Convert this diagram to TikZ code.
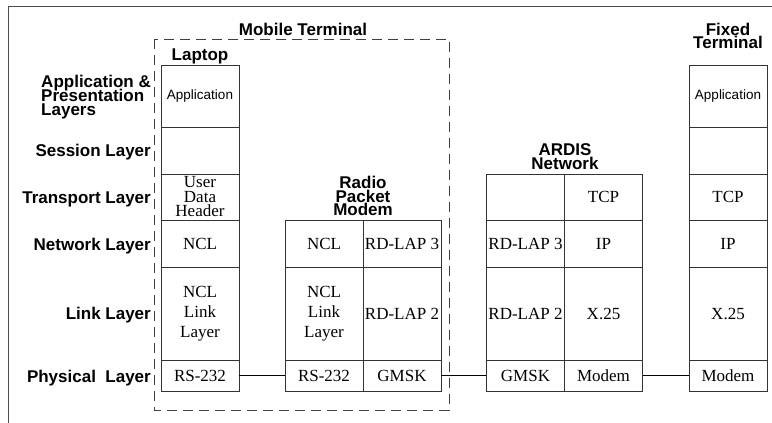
\documentclass[tikz,border=0pt]{standalone}
\usepackage{fontspec}
\setmainfont{Liberation Serif}
\setsansfont{Liberation Sans}
\usetikzlibrary{positioning}
\newcommand\tightskip{\lineskiplimit=-20pt\relax}

\begin{document}
\begin{tikzpicture}[x=1pt,y=-1pt,
  cell/.style={draw=black!80,line width=0.8pt,minimum width=78pt,inner sep=0pt,align=center,font={\fontsize{17}{14.5}\selectfont\tightskip}},
  cellsf/.style={cell,font=\sffamily\fontsize{13.5}{14}\selectfont},
  hdr/.style={font={\sffamily\bfseries\fontsize{17}{13.8}\selectfont\tightskip},align=center,inner sep=0pt},
  lyr/.style={font={\sffamily\bfseries\fontsize{17}{14}\selectfont\tightskip},align=left,anchor=east,inner sep=0pt},
  wire/.style={draw=black,line width=0.8pt}]
\useasboundingbox (0,0) rectangle (772,423);
% frame and mobile terminal boundary
\draw[black!70,line width=0.8pt] (8,423)--(8,6)--(772,6);
\draw[black!75,line width=0.8pt,dash pattern=on 10pt off 6pt] (154,39) rectangle (449,410);
% headings
\node[hdr] (mobile) at (303,29) {Mobile Terminal};
\node[hdr] (laptop) at (200,56) {Laptop};
\node[hdr] (rpm) at (363,196) {Radio\\Packet\\Modem};
\node[hdr] (ardis) at (565,157) {ARDIS\\Network};
\node[hdr] (fixed) at (728,36) {Fixed\\Terminal};
% layer names
\node[lyr] (lApp) at (151,97) {Application \&\\Presentation\\Layers};
\node[lyr] (lSes) at (151,152) {Session Layer};
\node[lyr] (lTra) at (151,199) {Transport Layer};
\node[lyr] (lNet) at (151,246) {Network Layer};
\node[lyr] (lLnk) at (151,315) {Link Layer};
\node[lyr] (lPhy) at (151,378) {Physical~~Layer};
% laptop stack
\node[cellsf,minimum height=62pt] (lapApp) at (200,96) {Application};
\node[cell,minimum height=47pt] (lapSes) at (200,150.5) {};
\node[cell,minimum height=46pt] (lapTra) at (200,197) {User\\Data\\Header};
\node[cell,minimum height=47pt] (lapNet) at (200,243.5) {NCL};
\node[cell,minimum height=93pt,font=\fontsize{17}{20}\selectfont] (lapLnk) at (200,313.5) {NCL\\Link\\Layer};
\node[cell,minimum height=31pt] (lapPhy) at (200,375.5) {RS-232};
% radio packet modem
\node[cell,minimum height=47pt] (rpmNetA) at (324,243.5) {NCL};
\node[cell,minimum height=93pt,font=\fontsize{17}{20}\selectfont] (rpmLnkA) at (324,313.5) {NCL\\Link\\Layer};
\node[cell,minimum height=31pt] (rpmPhyA) at (324,375.5) {RS-232};
\node[cell,minimum height=47pt] (rpmNetB) at (402,243.5) {RD-LAP 3};
\node[cell,minimum height=93pt] (rpmLnkB) at (402,313.5) {RD-LAP 2};
\node[cell,minimum height=31pt] (rpmPhyB) at (402,375.5) {GMSK};
% ARDIS network
\node[cell,minimum height=46pt] (arTraA) at (525.5,197) {};
\node[cell,minimum height=47pt] (arNetA) at (525.5,243.5) {RD-LAP 3};
\node[cell,minimum height=93pt] (arLnkA) at (525.5,313.5) {RD-LAP 2};
\node[cell,minimum height=31pt] (arPhyA) at (525.5,375.5) {GMSK};
\node[cell,minimum height=46pt] (arTraB) at (603.5,197) {TCP};
\node[cell,minimum height=47pt] (arNetB) at (603.5,243.5) {IP};
\node[cell,minimum height=93pt] (arLnkB) at (603.5,313.5) {X.25};
\node[cell,minimum height=31pt] (arPhyB) at (603.5,375.5) {Modem};
% fixed terminal stack
\node[cellsf,minimum height=62pt] (fixApp) at (728,96) {Application};
\node[cell,minimum height=47pt] (fixSes) at (728,150.5) {};
\node[cell,minimum height=46pt] (fixTra) at (728,197) {TCP};
\node[cell,minimum height=47pt] (fixNet) at (728,243.5) {IP};
\node[cell,minimum height=93pt] (fixLnk) at (728,313.5) {X.25};
\node[cell,minimum height=31pt] (fixPhy) at (728,375.5) {Modem};
% physical links
\draw[wire] (lapPhy.east)--(rpmPhyA.west);
\draw[wire] (rpmPhyB.east)--(arPhyA.west);
\draw[wire] (arPhyB.east)--(fixPhy.west);
\end{tikzpicture}
\end{document}
